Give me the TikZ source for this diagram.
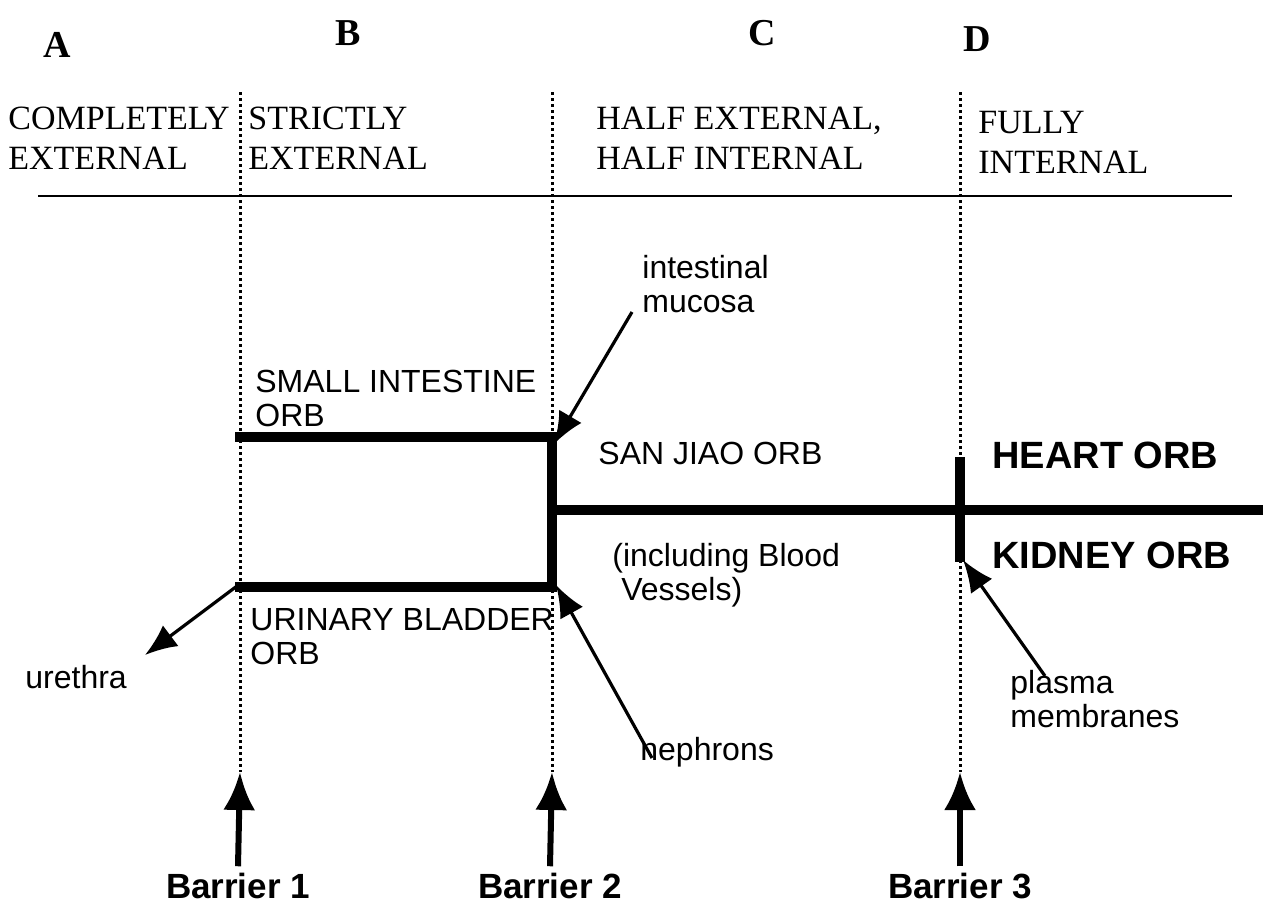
\documentclass[tikz,border=0pt]{standalone}
\usepackage{fontspec}
\setmainfont{Liberation Serif}
\setsansfont{Liberation Sans}
\usetikzlibrary{positioning,arrows.meta}
\tikzset{
  colletter/.style={font=\bfseries\fontsize{19}{23}\selectfont, anchor=base, inner sep=0pt},
  colhead/.style={font=\fontsize{17}{20}\selectfont, align=left, anchor=base west, inner sep=0pt},
  orbtext/.style={font=\sffamily\fontsize{16}{17}\selectfont, align=left, anchor=base west, inner sep=0pt},
  bigorb/.style={font=\sffamily\bfseries\fontsize{19}{23}\selectfont, anchor=base west, inner sep=0pt},
  barrierlbl/.style={font=\sffamily\bfseries\fontsize{17.5}{20}\selectfont, anchor=base, inner sep=0pt},
  divider/.style={line width=1.5pt, dash pattern=on 1.5pt off 1.5pt},
  headrule/.style={line width=1.2pt},
  organ/.style={line width=5pt},
  pointer/.style={line width=1.6pt, -{Latex[length=16pt,width=13pt]}},
  barrier/.style={line width=3pt, -{Latex[length=19pt,width=16pt]}}
}
\begin{document}
\begin{tikzpicture}[x=0.5pt,y=-0.5pt]
\useasboundingbox (0,0) rectangle (1263,905);

\foreach \n/\x in {1/240,2/552,3/960}{
  \coordinate (top\n) at (\x,92);
  \coordinate (bot\n) at (\x,772);
  \draw[divider] (top\n) -- (bot\n);
}
\coordinate (ruleL) at (38,196);
\coordinate (ruleR) at (1232,196);
\draw[headrule] (ruleL) -- (ruleR);

\node[colletter] (colA) at (57,57) {A};
\node[colletter] (colB) at (348,45) {B};
\node[colletter] (colC) at (762,45) {C};
\node[colletter] (colD) at (977,51) {D};

\node[colhead] (headA) at (8,169) {COMPLETELY\\EXTERNAL};
\node[colhead] (headB) at (248,169) {STRICTLY\\EXTERNAL};
\node[colhead] (headC) at (596,169) {HALF EXTERNAL,\\HALF INTERNAL};
\node[colhead] (headD) at (978,173) {FULLY\\INTERNAL};

\coordinate (siL) at (235,437);
\coordinate (siR) at (552,437);
\coordinate (ubR) at (552,587);
\coordinate (ubL) at (235,587);
\coordinate (sjL) at (552,510);
\coordinate (sjR) at (1263,510);
\coordinate (htop) at (960,457);
\coordinate (hbot) at (960,562);
\draw[organ] (siL) -- (siR) -- (ubR) -- (ubL);
\draw[organ] (sjL) -- (sjR);
\draw[organ] (htop) -- (hbot);

\node[orbtext] (small) at (255,426) {SMALL INTESTINE\\ORB};
\node[orbtext] (bladder) at (250,664) {URINARY BLADDER\\ORB};
\node[orbtext] (sanjiao) at (598,464) {SAN JIAO ORB};
\node[orbtext] (vessels) at (612,600) {(including Blood\\\ Vessels)};
\node[orbtext] (mucosa) at (642,312) {intestinal\\mucosa};
\node[orbtext] (urethra) at (25,688) {urethra};
\node[orbtext] (nephrons) at (640,760) {nephrons};
\node[orbtext] (plasma) at (1010,727) {plasma\\membranes};
\node[bigorb] (heart) at (992,468) {HEART ORB};
\node[bigorb] (kidney) at (992,568) {KIDNEY ORB};

\coordinate (mucosaS) at (632,312);
\coordinate (mucosaT) at (554,444);
\coordinate (urethraS) at (237,586);
\coordinate (urethraT) at (145,655);
\coordinate (nephronsS) at (652,758);
\coordinate (nephronsT) at (556,585);
\coordinate (plasmaS) at (1045,676);
\coordinate (plasmaT) at (963,560);
\draw[pointer] (mucosaS) -- (mucosaT);
\draw[pointer] (urethraS) -- (urethraT);
\draw[pointer] (nephronsS) -- (nephronsT);
\draw[pointer] (plasmaS) -- (plasmaT);

\node[barrierlbl] (barrier1) at (238,898) {Barrier 1};
\node[barrierlbl] (barrier2) at (550,898) {Barrier 2};
\node[barrierlbl] (barrier3) at (960,898) {Barrier 3};
\draw[barrier] ([yshift=3pt]barrier1.north) -- (bot1);
\draw[barrier] ([yshift=3pt]barrier2.north) -- (bot2);
\draw[barrier] ([yshift=3pt]barrier3.north) -- (bot3);
\end{tikzpicture}
\end{document}
